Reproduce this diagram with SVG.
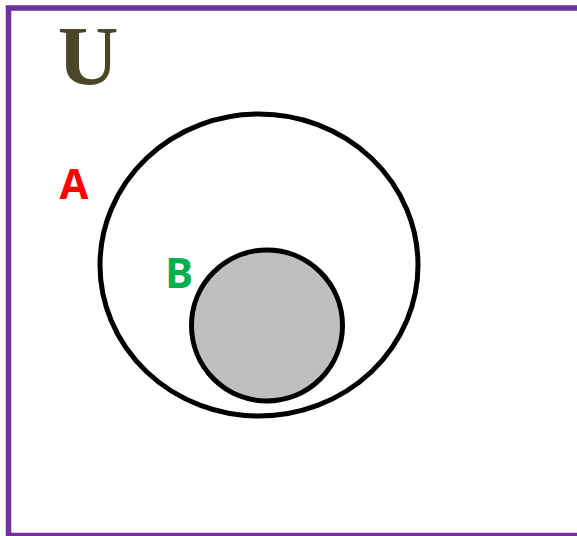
<svg xmlns="http://www.w3.org/2000/svg" width="577" height="536" viewBox="0 0 577 536">
<style>
.set{fill:none;stroke:#000;stroke-width:5}
.lbl{font-family:"Open Sans","Liberation Sans",sans-serif;font-weight:bold}
</style>
<rect width="577" height="536" fill="#fff"/>
<g id="universe">
<rect x="8.5" y="8" width="620" height="527.5" fill="none" stroke="#7030A0" stroke-width="5.5"/>
<text x="88" y="85" text-anchor="middle" font-family="'Liberation Serif',serif" font-weight="bold" font-size="84" fill="#4A4628">U</text>
</g>
<g id="setA">
<ellipse class="set" cx="259" cy="265" rx="159" ry="151"/>
<text class="lbl" x="74" y="199" text-anchor="middle" font-size="42" fill="#FF0000">A</text>
</g>
<g id="setB">
<circle cx="267" cy="325.5" r="75.5" fill="#BFBFBF" stroke="#000" stroke-width="5"/>
<text class="lbl" x="179" y="288" text-anchor="middle" font-size="42" fill="#00B050">B</text>
</g>
<g id="connectors"/>
</svg>
